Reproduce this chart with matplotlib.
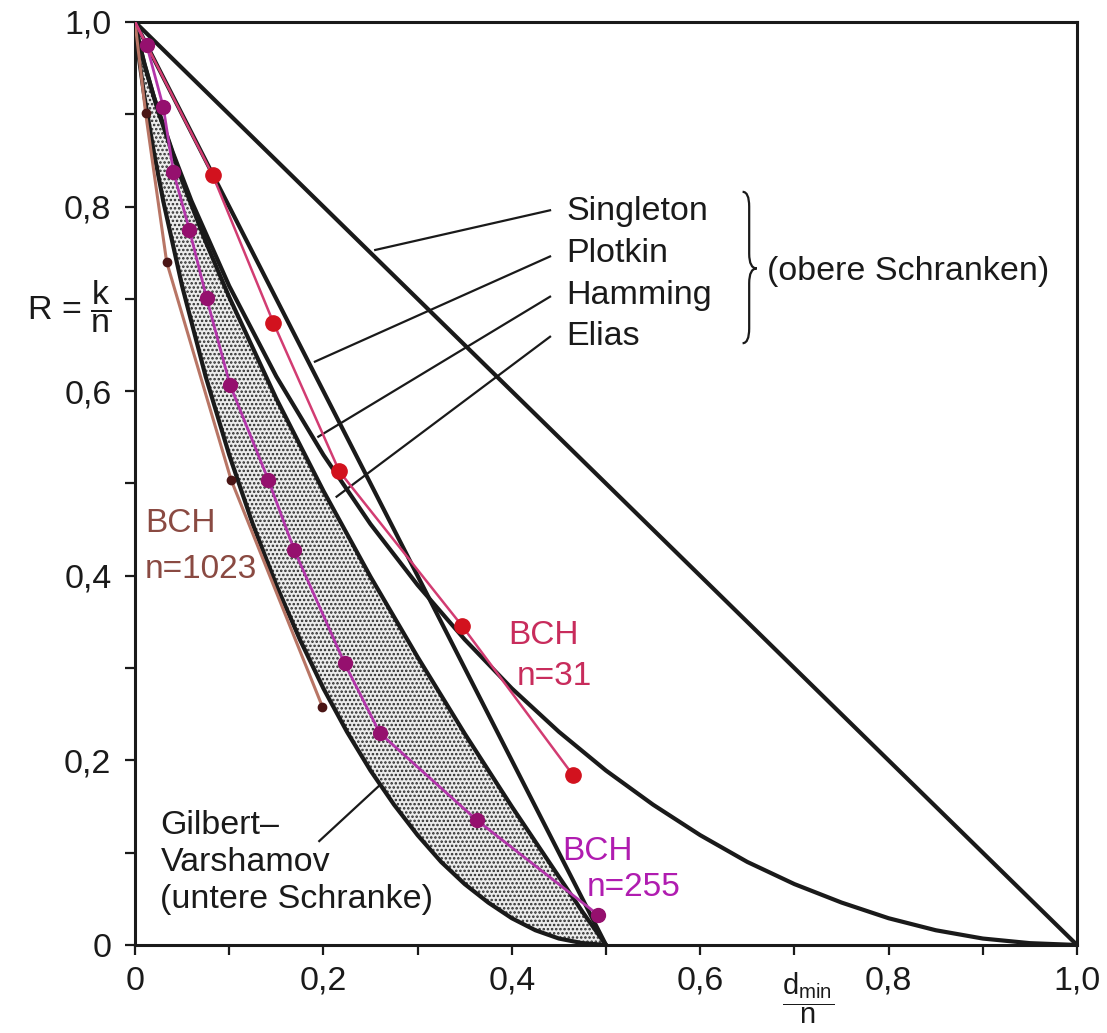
import numpy as np
import matplotlib
matplotlib.use("Agg")
import matplotlib.pyplot as plt
from matplotlib.path import Path
from matplotlib.patches import PathPatch

plt.rcParams['font.family'] = ['Liberation Sans', 'DejaVu Sans']
plt.rcParams['mathtext.fontset'] = 'custom'
plt.rcParams['mathtext.rm'] = 'Liberation Sans'
plt.rcParams['mathtext.it'] = 'Liberation Sans:italic'
plt.rcParams['hatch.color'] = '#2a2a2a'
plt.rcParams['hatch.linewidth'] = 1.2

# bounds (d_min/n, R)
singleton_d = [0.0, 1.0]
singleton_r = [1.0, 0.0]
plotkin_d = [0.0, 0.5]
plotkin_r = [1.0, 0.0]
hamming_d = [0, 0.002, 0.005, 0.01, 0.02, 0.04, 0.06, 0.1, 0.15, 0.2, 0.25, 0.3, 0.35,
             0.4, 0.45, 0.5, 0.55, 0.6, 0.65, 0.7, 0.75, 0.8, 0.85, 0.9, 0.95, 1.0]
hamming_r = [1.0, 0.989, 0.975, 0.955, 0.919, 0.859, 0.806, 0.714, 0.616, 0.531, 0.456, 0.390, 0.331,
             0.278, 0.231, 0.189, 0.152, 0.119, 0.090, 0.066, 0.046, 0.029, 0.016, 0.007, 0.002, 0.0]
elias_d = [0, 0.002, 0.005, 0.01, 0.02, 0.025, 0.05, 0.075, 0.1, 0.15, 0.2, 0.25, 0.3,
           0.35, 0.4, 0.45, 0.475, 0.5]
elias_r = [1.0, 0.989, 0.975, 0.954, 0.919, 0.902, 0.828, 0.762, 0.702, 0.592, 0.492, 0.399, 0.312,
           0.229, 0.150, 0.074, 0.036, 0.0]
gv_d = [0, 0.001, 0.0025, 0.005, 0.01, 0.02, 0.03, 0.05, 0.075, 0.1, 0.125, 0.15, 0.175, 0.2,
        0.225, 0.25, 0.275, 0.3, 0.325, 0.35, 0.375, 0.4, 0.425, 0.45, 0.475, 0.5]
gv_r = [1.0, 0.989, 0.975, 0.955, 0.919, 0.859, 0.806, 0.714, 0.616, 0.531, 0.456, 0.390, 0.331, 0.278,
        0.231, 0.189, 0.152, 0.119, 0.090, 0.066, 0.046, 0.029, 0.016, 0.007, 0.002, 0.0]

# BCH codes (hand drawn in the original)
bch31_d = [0.0825, 0.147, 0.217, 0.347, 0.465]
bch31_r = [0.834, 0.674, 0.513, 0.346, 0.184]
bch255_d = [0.0124, 0.030, 0.0407, 0.0577, 0.076, 0.1008, 0.1415, 0.169, 0.2226, 0.260, 0.3627, 0.4918]
bch255_r = [0.975, 0.908, 0.838, 0.775, 0.701, 0.607, 0.504, 0.428, 0.305, 0.2295, 0.1354, 0.0325]
bch1023_d = [0.0113, 0.0336, 0.102, 0.199]
bch1023_r = [0.901, 0.740, 0.504, 0.258]
line_start = (0.0, 1.0)

ticks = [0.0, 0.1, 0.2, 0.3, 0.4, 0.5, 0.6, 0.7, 0.8, 0.9, 1.0]
xticklabels = ['0', '', '0,2', '', '0,4', '', '0,6', '', '0,8', '', '1,0']
yticklabels = ['0', '', '0,2', '', '0,4', '', '0,6', r'R = $\dfrac{\mathrm{k}}{\mathrm{n}}$', '0,8', '', '1,0']

fig = plt.figure(figsize=(11.07, 10.33), dpi=100)
ax = fig.add_axes([0.12195, 0.08519, 0.85095, 0.89352])

# shaded region between Gilbert-Varshamov and Elias
poly_x = list(elias_d) + list(gv_d[::-1])
poly_y = list(elias_r) + list(gv_r[::-1])
ax.fill(poly_x, poly_y, facecolor='#ececec', edgecolor='#2a2a2a', hatch='....', linewidth=0, zorder=1)

blk = '#1a1a1a'
for d, r in [(singleton_d, singleton_r), (plotkin_d, plotkin_r), (hamming_d, hamming_r),
             (elias_d, elias_r), (gv_d, gv_r)]:
    ax.plot(d, r, color=blk, lw=3.0, solid_capstyle='round', solid_joinstyle='round', zorder=3)

# BCH curves
ax.plot([line_start[0]] + bch1023_d, [line_start[1]] + bch1023_r, color='#b87565', lw=2.2, zorder=4)
ax.plot(bch1023_d, bch1023_r, 'o', color='#4a1515', ms=6, zorder=5)
ax.plot([line_start[0]] + bch255_d, [line_start[1]] + bch255_r, color='#b335aa', lw=2.0, zorder=4)
ax.plot(bch255_d, bch255_r, 'o', color='#95106e', ms=10, zorder=5)
ax.plot([line_start[0]] + bch31_d, [line_start[1]] + bch31_r, color='#d23c72', lw=1.8, zorder=4)
ax.plot(bch31_d, bch31_r, 'o', color='#d2121e', ms=11, zorder=5)

hs = 24
ax.text(0.0106, 0.457, 'BCH', color='#8a4a42', fontsize=hs, va='center', ha='left')
ax.text(0.0106, 0.407, 'n=1023', color='#8a4a42', fontsize=hs, va='center', ha='left')
ax.text(0.396, 0.335, 'BCH', color='#c82c5c', fontsize=hs, va='center', ha='left')
ax.text(0.405, 0.291, 'n=31', color='#c82c5c', fontsize=hs, va='center', ha='left')
ax.text(0.454, 0.101, 'BCH', color='#b01cb0', fontsize=hs, va='center', ha='left')
ax.text(0.480, 0.062, 'n=255', color='#b01cb0', fontsize=hs, va='center', ha='left')

# labels of the bounds with leader lines
fs = 24.5
lab_x = 0.458
names = ['Singleton', 'Plotkin', 'Hamming', 'Elias']
base_y = [0.786, 0.740, 0.695, 0.650]
lead_from = [(0.255, 0.753), (0.191, 0.632), (0.1946, 0.5507), (0.214, 0.4857)]
lead_to = [(0.4406, 0.796), (0.4406, 0.746), (0.4406, 0.7024), (0.4406, 0.659)]
for n, by, a, b in zip(names, base_y, lead_from, lead_to):
    ax.text(lab_x, by, n, fontsize=fs, va='baseline', ha='left', color='#1a1a1a')
    ax.plot([a[0], b[0]], [a[1], b[1]], color=blk, lw=1.6, zorder=3)

# curly brace
verts = [(0.645, 0.816), (0.652, 0.816), (0.652, 0.800), (0.652, 0.749),
         (0.652, 0.733), (0.660, 0.733),
         (0.652, 0.733), (0.652, 0.717), (0.652, 0.668),
         (0.652, 0.652), (0.645, 0.652)]
codes = [Path.MOVETO, Path.CURVE3, Path.CURVE3, Path.LINETO,
         Path.CURVE3, Path.CURVE3,
         Path.CURVE3, Path.CURVE3, Path.LINETO,
         Path.CURVE3, Path.CURVE3]
ax.add_patch(PathPatch(Path(verts, codes), facecolor='none', edgecolor=blk, lw=1.6, zorder=3))
ax.text(0.6706, 0.7205, '(obere Schranken)', fontsize=fs, va='baseline', ha='left', color='#1a1a1a')

# Gilbert-Varshamov label
ax.text(0.027, 0.1198, 'Gilbert\u2013', fontsize=fs, va='baseline', ha='left', color='#1a1a1a')
ax.text(0.027, 0.0802, 'Varshamov', fontsize=fs, va='baseline', ha='left', color='#1a1a1a')
ax.text(0.027, 0.0406, '(untere Schranke)', fontsize=fs, va='baseline', ha='left', color='#1a1a1a')
ax.plot([0.1956, 0.2604], [0.1126, 0.1737], color=blk, lw=1.6, zorder=3)

ax.set_xlim(0, 1)
ax.set_ylim(0, 1)
ax.set_xticks(ticks)
ax.set_xticklabels(xticklabels)
ax.set_yticks(ticks)
ax.set_yticklabels(yticklabels)
ax.tick_params(axis='both', direction='out', length=7, width=1.6, labelsize=fs, colors='#1a1a1a')
ax.tick_params(axis='y', pad=10)
ax.tick_params(axis='x', pad=8)
for s in ax.spines.values():
    s.set_linewidth(2.2)
    s.set_color('#1a1a1a')

# x axis name sits in place of the 0,7 label
ax.text(0.714, -0.057, r'$\dfrac{\mathrm{d_{min}}}{\mathrm{n}}$', transform=ax.transAxes,
        fontsize=21, ha='center', va='center', color='#1a1a1a')

fig.savefig('out.png', dpi=100, facecolor='white')
